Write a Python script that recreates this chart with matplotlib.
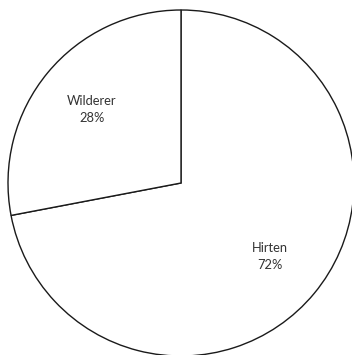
import matplotlib
matplotlib.use('Agg')
import matplotlib.pyplot as plt
import numpy as np

labels = ['Hirten', 'Wilderer']
shares = [72, 28]

plt.rcParams['font.family'] = ['Lato', 'DejaVu Sans']

fig = plt.figure(figsize=(3.52, 3.55), dpi=100)
ax = fig.add_axes([0, 0, 1, 1])

cx, cy, r = 181, 172, 173
wedges, texts = ax.pie(shares, center=(cx, cy), radius=r, startangle=90,
                       counterclock=False, colors=['white'] * 2,
                       wedgeprops={'edgecolor': '#1a1a1a', 'linewidth': 1.0},
                       frame=True)
ax.set_xlim(0, 352)
ax.set_ylim(0, 355)
ax.axis('off')

for w, lab, s in zip(wedges, labels, shares):
    mid = np.deg2rad((w.theta1 + w.theta2) / 2)
    x = cx + 0.67 * r * np.cos(mid)
    y = cy + 0.67 * r * np.sin(mid)
    ax.text(x, y, f'{lab}\n{s}%', ha='center', va='center', fontsize=9.3,
            color='#333333', linespacing=1.5)

fig.savefig('out.png', dpi=100)
